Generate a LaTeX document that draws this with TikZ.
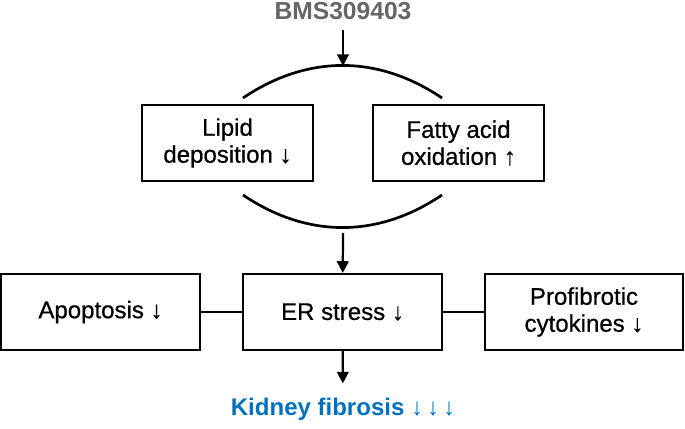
\documentclass[tikz,border=0pt]{standalone}
\usepackage{fontspec}
\setmainfont{Liberation Sans}[UprightFeatures={FakeBold=0.6}]
\usepackage{tikz}
\usetikzlibrary{arrows.meta, positioning, calc}
\definecolor{titlegray}{RGB}{102,102,102}
\definecolor{fibroblue}{RGB}{0,114,189}
\tikzset{
  box/.style={
    rectangle, draw=black, line width=1.8pt,
    minimum height=2.28cm,
    font=\fontsize{20.5}{23}\selectfont,
    align=center,
    inner sep=0pt
  },
  % Larghezze dei due livelli di box
  upperbox/.style={box, minimum width=5.15cm},
  lowerbox/.style={box, minimum width=5.95cm},
  flow/.style={-{Triangle[length=10pt,width=10pt]}, line width=1.9pt},
  link/.style={line width=2.3pt},
  arch/.style={line width=2.3pt},
  every node/.style={anchor=center}
}

\begin{document}
\begin{tikzpicture}[x=0.03cm, y=0.03cm]
\path[use as bounding box] (0,0) rectangle (685,428);

% Farmaco in alto
\node[font=\bfseries\fontsize{21}{23}\selectfont, text=titlegray, inner sep=8.5pt] (drug) at (343,416.5) {BMS309403};

% Arco superiore
\coordinate (archTopL) at (243,330);
\coordinate (archTopR) at (442,330);
\coordinate (archTopMid) at (343,362);
\draw[arch] (archTopL) to[bend left=34] (archTopR);
\draw[flow] (drug) -- (archTopMid);

% Livello superiore - effetti sul metabolismo lipidico
\node[upperbox] (lipid) at (227.5,285) {Lipid\\deposition ↓};
\node[upperbox] (fatty) at (458.5,285) {Fatty acid\\oxidation ↑};

% Arco inferiore
\coordinate (archBotL) at (243,233);
\coordinate (archBotR) at (442,233);
\coordinate (archBotMid) at (343,195);
\draw[arch] (archBotL) to[bend right=34] (archBotR);

% Livello inferiore - stress del reticolo e conseguenze
\node[lowerbox] (er) at (342.5,116) {ER stress ↓};
\node[lowerbox] (apoptosis) at (100.5,116) {Apoptosis ↓};
\node[lowerbox] (cytokines) at (584,116) {Profibrotic\\cytokines ↓};

\draw[flow] (archBotMid) -- (er);
\draw[link] (apoptosis) -- (er);
\draw[link] (er) -- (cytokines);

% Esito finale
\node[font=\bfseries\fontsize{20.5}{23}\selectfont, text=fibroblue, inner sep=12pt] (fibrosis) at (343,19) {Kidney fibrosis ↓\,↓\,↓};
\draw[flow] (er) -- (fibrosis);

\end{tikzpicture}
\end{document}
